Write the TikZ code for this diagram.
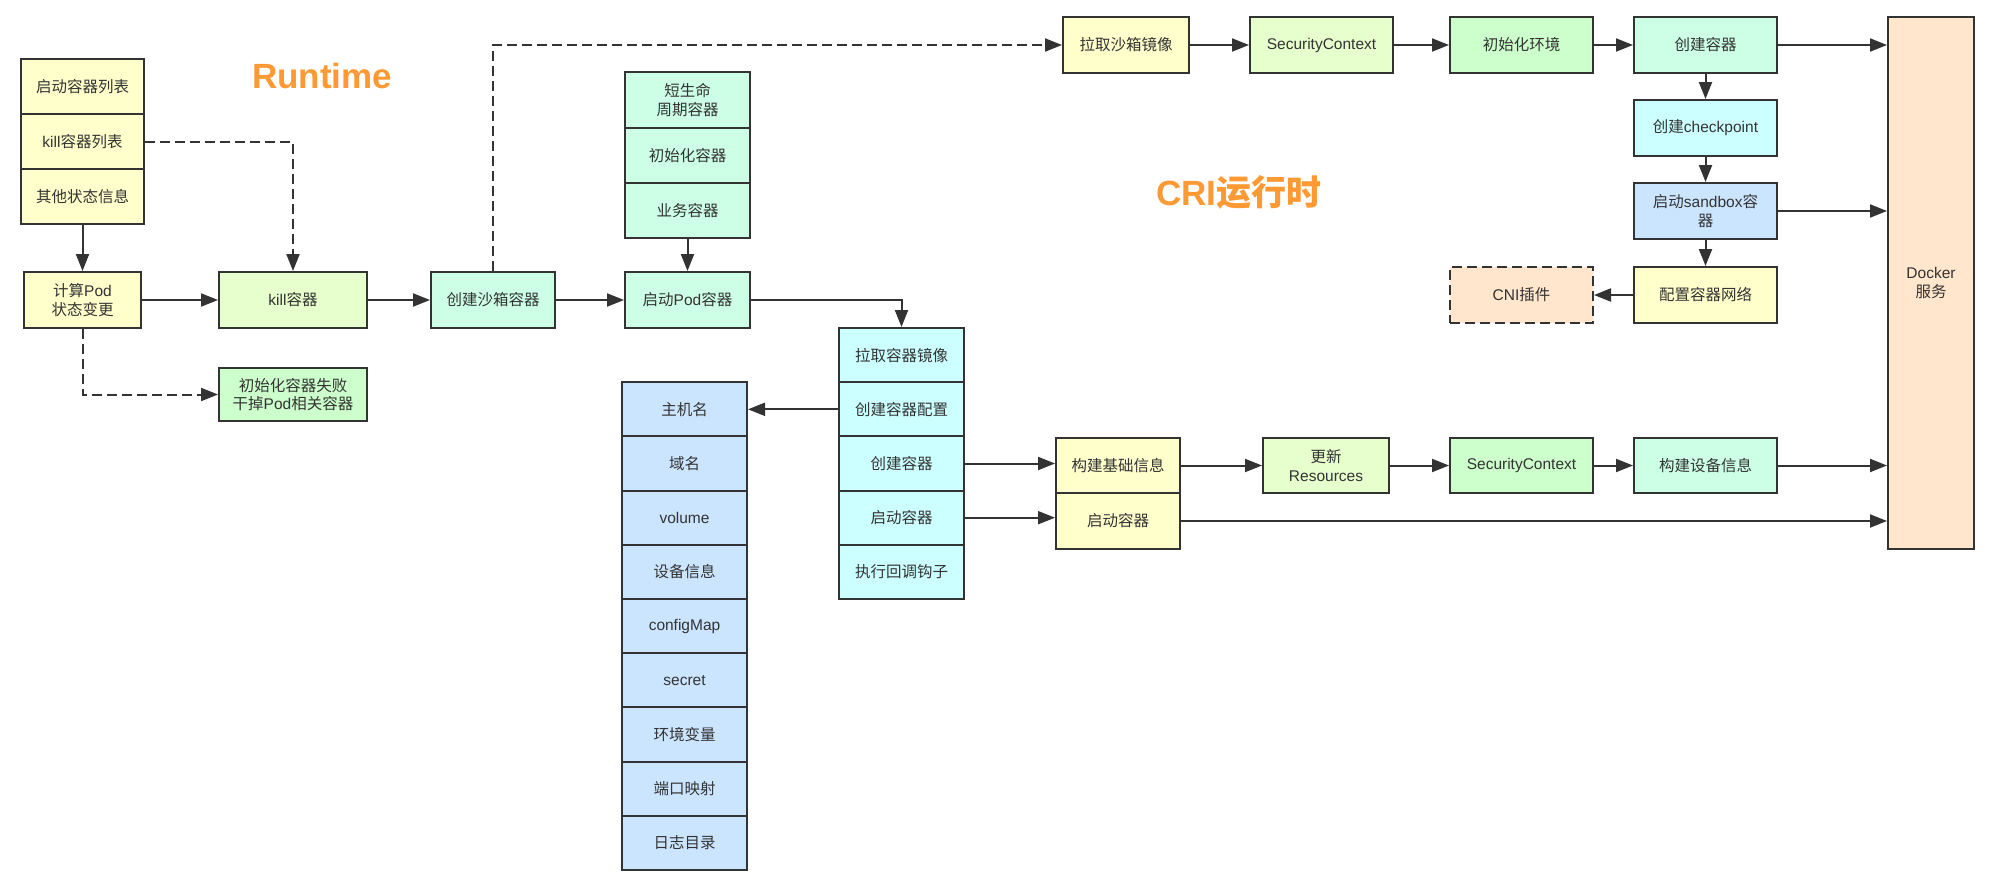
\documentclass[tikz,border=0pt]{standalone}
\usepackage{fontspec}
\setmainfont{Noto Sans CJK SC}
\newfontfamily\lat{Liberation Sans}
\usetikzlibrary{arrows.meta}
\definecolor{ln}{HTML}{333333}
\definecolor{cyel}{HTML}{FFFFCC}
\definecolor{clime}{HTML}{E6FFCC}
\definecolor{cgreen}{HTML}{CCFFCC}
\definecolor{cmint}{HTML}{CCFFE6}
\definecolor{ccyan}{HTML}{CCFFFF}
\definecolor{cblue}{HTML}{CCE5FF}
\definecolor{cpeach}{HTML}{FFE6CC}
\definecolor{corange}{HTML}{FF9933}
\tikzset{
  box/.style={draw=ln, line width=2pt, rectangle, inner sep=0pt, align=center, text=ln,
              font=\fontsize{15.5}{18.5}\selectfont},
  wh/.style 2 args={minimum width=#1pt, minimum height=#2pt},
  arr/.style={draw=ln, line width=2pt, -{Triangle[length=17pt,width=13pt]}},
  darr/.style={arr, dash pattern=on 10pt off 5pt},
  title/.style={text=corange, inner sep=0pt, font=\fontsize{35}{40}\selectfont\bfseries},
}
\begin{document}
\begin{tikzpicture}[x=1pt,y=-1pt]
\useasboundingbox (0,0) rectangle (1994,884);

% titles
\node[title] (rt) at (322,76) {{\lat\bfseries Runtime}};
\node[title] (cri) at (1239,192) {{\lat\bfseries CRI}运行时};

% runtime stack
\node[box,fill=cyel,wh={123}{55}] (s1) at (82.5,86.5) {启动容器列表};
\node[box,fill=cyel,wh={123}{55}] (s2) at (82.5,141.5) {{\lat kill}容器列表};
\node[box,fill=cyel,wh={123}{55}] (s3) at (82.5,196.5) {其他状态信息};

% main flow
\node[box,fill=cyel,wh={117}{56}] (calc) at (82.5,300) {计算{\lat Pod}\\状态变更};
\node[box,fill=clime,wh={148}{56}] (kill) at (293,300) {{\lat kill}容器};
\node[box,fill=cgreen,wh={148}{53}] (fail) at (293,394.5) {初始化容器失败\\干掉{\lat Pod}相关容器};
\node[box,fill=cmint,wh={124}{56}] (sbox) at (493,300) {创建沙箱容器};
\node[box,fill=cmint,wh={125}{56}] (pod) at (687.5,300) {启动{\lat Pod}容器};

% container kinds stack
\node[box,fill=cmint,wh={125}{55.3}] (k1) at (687.5,100) {短生命\\周期容器};
\node[box,fill=cmint,wh={125}{55.3}] (k2) at (687.5,155.3) {初始化容器};
\node[box,fill=cmint,wh={125}{55.3}] (k3) at (687.5,210.6) {业务容器};

% container steps stack (cyan)
\node[box,fill=ccyan,wh={125}{54.2}] (c1) at (901.5,355.1) {拉取容器镜像};
\node[box,fill=ccyan,wh={125}{54.2}] (c2) at (901.5,409.3) {创建容器配置};
\node[box,fill=ccyan,wh={125}{54.2}] (c3) at (901.5,463.5) {创建容器};
\node[box,fill=ccyan,wh={125}{54.2}] (c4) at (901.5,517.7) {启动容器};
\node[box,fill=ccyan,wh={125}{54.2}] (c5) at (901.5,571.9) {执行回调钩子};

% config stack (blue)
\node[box,fill=cblue,wh={125}{54.2}] (b1) at (684.5,409.3) {主机名};
\node[box,fill=cblue,wh={125}{54.2}] (b2) at (684.5,463.5) {域名};
\node[box,fill=cblue,wh={125}{54.2}] (b3) at (684.5,517.7) {{\lat volume}};
\node[box,fill=cblue,wh={125}{54.2}] (b4) at (684.5,571.9) {设备信息};
\node[box,fill=cblue,wh={125}{54.2}] (b5) at (684.5,626.1) {{\lat configMap}};
\node[box,fill=cblue,wh={125}{54.2}] (b6) at (684.5,680.3) {{\lat secret}};
\node[box,fill=cblue,wh={125}{54.2}] (b7) at (684.5,734.5) {环境变量};
\node[box,fill=cblue,wh={125}{54.2}] (b8) at (684.5,788.7) {端口映射};
\node[box,fill=cblue,wh={125}{54.2}] (b9) at (684.5,842.9) {日志目录};

% CRI top row
\node[box,fill=cyel,wh={126}{56}] (t1) at (1126,45) {拉取沙箱镜像};
\node[box,fill=clime,wh={143}{56}] (t2) at (1321.5,45) {{\lat SecurityContext}};
\node[box,fill=cgreen,wh={143}{56}] (t3) at (1521.5,45) {初始化环境};
\node[box,fill=cmint,wh={143}{56}] (t4) at (1705.5,45) {创建容器};
\node[box,fill=ccyan,wh={143}{56}] (t5) at (1705.5,128) {创建{\lat checkpoint}};
\node[box,fill=cblue,wh={143}{56}] (t6) at (1705.5,211) {启动{\lat sandbox}容\\器};
\node[box,fill=cyel,wh={143}{56}] (t7) at (1705.5,295) {配置容器网络};
\node[box,fill=cpeach,wh={143}{56},dash pattern=on 10pt off 5pt] (cni) at (1521.5,295) {{\lat CNI}插件};

% docker
\node[box,fill=cpeach,wh={86}{532}] (docker) at (1931,283) {{\lat Docker}\\服务};

% CRI bottom row
\node[box,fill=cyel,wh={124}{55}] (r1) at (1118,465.5) {构建基础信息};
\node[box,fill=cyel,wh={124}{56}] (r2) at (1118,521) {启动容器};
\node[box,fill=clime,wh={126}{55}] (r3) at (1326,465.5) {更新\\{\lat Resources}};
\node[box,fill=cgreen,wh={143}{55}] (r4) at (1521.5,465.5) {{\lat SecurityContext}};
\node[box,fill=cmint,wh={143}{55}] (r5) at (1705.5,465.5) {构建设备信息};

% connectors: runtime
\draw[arr] (s3.south) -- (calc.north);
\draw[darr] (s2.east) -| (kill.north);
\draw[arr] (calc.east) -- (kill.west);
\draw[darr] (calc.south) |- (fail.west);
\draw[arr] (kill.east) -- (sbox.west);
\draw[arr] (sbox.east) -- (pod.west);
\draw[darr] (sbox.north) |- (t1.west);
\draw[arr] (k3.south) -- (pod.north);
\draw[arr] (pod.east) -| (c1.north);
\draw[arr] (c2.west) -- (c2.west -| b1.east);
\draw[arr] (c3.east) -- (c3.east -| r1.west);
\draw[arr] (c4.east) -- (c4.east -| r2.west);

% connectors: CRI top
\draw[arr] (t1.east) -- (t2.west);
\draw[arr] (t2.east) -- (t3.west);
\draw[arr] (t3.east) -- (t4.west);
\draw[arr] (t4.south) -- (t5.north);
\draw[arr] (t5.south) -- (t6.north);
\draw[arr] (t6.south) -- (t7.north);
\draw[arr] (t7.west) -- (cni.east);
\draw[arr] (t4.east) -- (t4.east -| docker.west);
\draw[arr] (t6.east) -- (t6.east -| docker.west);

% connectors: CRI bottom
\draw[arr] (r1.east) -- (r3.west);
\draw[arr] (r3.east) -- (r4.west);
\draw[arr] (r4.east) -- (r5.west);
\draw[arr] (r5.east) -- (r5.east -| docker.west);
\draw[arr] (r2.east) -- (r2.east -| docker.west);
\end{tikzpicture}
\end{document}
